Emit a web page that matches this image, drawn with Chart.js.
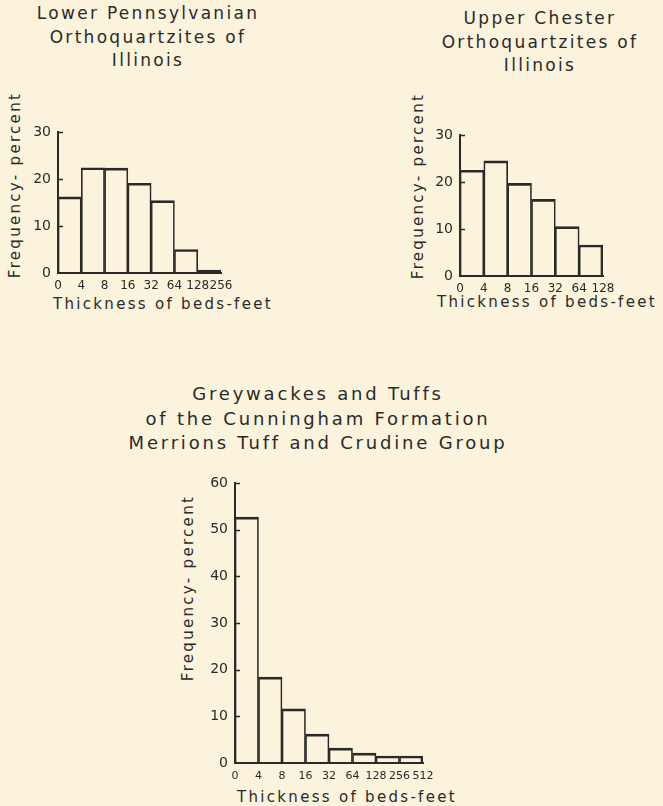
<!DOCTYPE html>
<html>
<head>
<meta charset="utf-8">
<script src="https://cdn.jsdelivr.net/npm/chart.js@4"></script>
<style>
  body { margin: 0; background: #fbf3dc; width: 663px; height: 806px; overflow: hidden; position: relative; font-family: "DejaVu Sans", sans-serif; color: #2a2a2a; }
  canvas { position: absolute; }
  .title { position: absolute; text-align: center; font-size: 17px; line-height: 23.5px; letter-spacing: 2.3px; white-space: nowrap; }
  .axt { position: absolute; text-align: center; font-size: 15px; line-height: 18px; letter-spacing: 2.3px; white-space: nowrap; }
  .rot { transform: rotate(-90deg); }
</style>
</head>
<body>

<div class="title" style="left:28px; top:2px; width:240px;">Lower Pennsylvanian<br>Orthoquartzites of<br>Illinois</div>
<div class="title" style="left:420px; top:7px; width:240px;">Upper Chester<br>Orthoquartzites of<br>Illinois</div>
<div class="title" style="left:68px; top:382px; width:500px; font-size:18px; line-height:24.5px; letter-spacing:2.8px;">Greywackes and Tuffs<br>of the Cunningham Formation<br>Merrions Tuff and Crudine Group</div>

<div class="axt rot" style="left:-105px; top:176px; width:240px;">Frequency- percent</div>
<div class="axt rot" style="left:298px; top:177px; width:240px;">Frequency- percent</div>
<div class="axt rot" style="left:68px; top:579px; width:240px;">Frequency- percent</div>

<div class="axt" style="left:43px; top:295px; width:240px;">Thickness of beds-feet</div>
<div class="axt" style="left:427px; top:293px; width:240px;">Thickness of beds-feet</div>
<div class="axt" style="left:227px; top:788px; width:240px;">Thickness of beds-feet</div>

<canvas id="lowerChart" width="270" height="200" style="left:0px; top:100px;"></canvas>
<canvas id="upperChart" width="250" height="205" style="left:400px; top:100px;"></canvas>
<canvas id="cunninghamChart" width="300" height="335" style="left:170px; top:460px;"></canvas>

<script>
// bin edges (feet) and frequency (percent) for each histogram
const lowerEdges = ["0", "4", "8", "16", "32", "64", "128", "256"];
const lowerFreq = [16.2, 22.4, 22.3, 19.1, 15.4, 5.0, 0.6];

const upperEdges = ["0", "4", "8", "16", "32", "64", "128"];
const upperFreq = [22.5, 24.5, 19.7, 16.3, 10.5, 6.6];

const cunEdges = ["0", "4", "8", "16", "32", "64", "128", "256", "512"];
const cunFreq = [52.7, 18.4, 11.6, 6.2, 3.2, 2.1, 1.5, 1.5];

const ink = "#2a2a2a";
const fontFamily = "'DejaVu Sans', sans-serif";

// small ticks pointing into the plot, like the hand-drawn axis
const innerTicks = {
    id: "innerTicks",
    afterDraw(chart) {
        const { ctx, chartArea, scales: { y } } = chart;
        ctx.save();
        ctx.strokeStyle = ink;
        ctx.lineWidth = 1.5;
        y.ticks.forEach(t => {
            if (t.value === 0) return;
            const py = Math.round(y.getPixelForValue(t.value)) + 0.5;
            ctx.beginPath();
            ctx.moveTo(chartArea.left, py);
            ctx.lineTo(chartArea.left + 5, py);
            ctx.stroke();
        });
        ctx.restore();
    }
};

function histogram(id, edges, freq, yMax, geo) {
    const n = freq.length;
    return new Chart(document.getElementById(id), {
        type: "bar",
        data: {
            datasets: [{
                data: freq.map((v, i) => ({ x: i + 0.5, y: v })),
                backgroundColor: "rgba(0,0,0,0)",
                borderColor: ink,
                borderWidth: ctx => ({ top: 2, left: 1, right: ctx.dataIndex === n - 1 ? 2 : 1, bottom: 0 }),
                borderSkipped: "start",
                categoryPercentage: 1,
                barPercentage: 1
            }]
        },
        options: {
            responsive: false,
            animation: false,
            layout: { padding: { left: 0, right: geo.right, top: geo.top, bottom: 0 } },
            plugins: { legend: { display: false }, tooltip: { enabled: false } },
            scales: {
                x: {
                    type: "linear",
                    min: 0,
                    max: n,
                    offset: false,
                    grid: { display: false, drawTicks: false, offset: false },
                    border: { display: true, color: ink, width: 2 },
                    ticks: {
                        stepSize: 1,
                        autoSkip: false,
                        maxRotation: 0,
                        padding: geo.xPad,
                        color: ink,
                        font: { family: fontFamily, size: geo.xFont },
                        callback: v => edges[v]
                    },
                    afterFit: s => { s.height = geo.xHeight; }
                },
                y: {
                    min: 0,
                    max: yMax,
                    grid: { display: false, drawTicks: false },
                    border: { display: true, color: ink, width: 2 },
                    ticks: {
                        stepSize: 10,
                        padding: 7,
                        color: ink,
                        font: { family: fontFamily, size: 14 }
                    },
                    afterFit: s => { s.width = geo.yWidth; }
                }
            }
        },
        plugins: [innerTicks]
    });
}

histogram("lowerChart", lowerEdges, lowerFreq, 30, { yWidth: 58, right: 49, top: 32, xHeight: 27, xPad: 6, xFont: 12 });
histogram("upperChart", upperEdges, upperFreq, 30, { yWidth: 60, right: 47, top: 35, xHeight: 29, xPad: 6, xFont: 12 });
histogram("cunninghamChart", cunEdges, cunFreq, 60, { yWidth: 65, right: 47, top: 23, xHeight: 32, xPad: 7, xFont: 11 });
</script>
</body>
</html>
